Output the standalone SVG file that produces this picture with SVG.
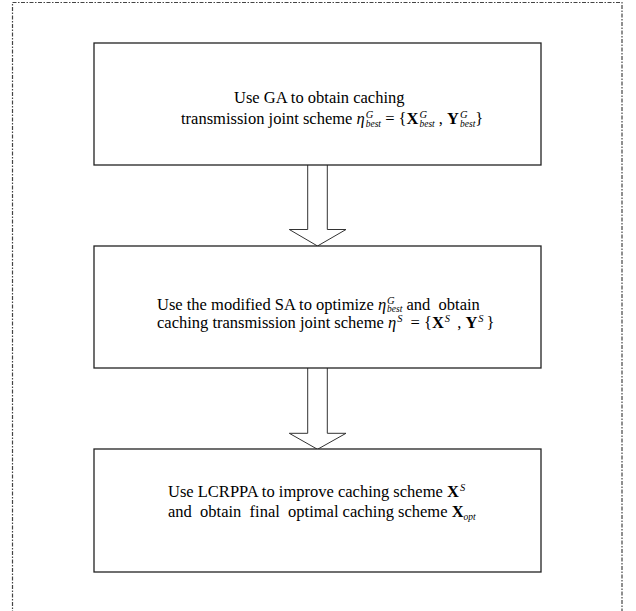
<svg xmlns="http://www.w3.org/2000/svg" width="636" height="611" viewBox="0 0 636 611">
<style>
.frame{fill:none;stroke:#444;stroke-width:1.2;stroke-dasharray:4 1.5 1.5 1.5}
.box{fill:#fff;stroke:#222;stroke-width:1.3}
.arrow{fill:#fff;stroke:#333;stroke-width:1}
text{font-family:"Liberation Serif","Times New Roman",serif;font-size:16.5px;fill:#000}
.i{font-style:italic}
.b{font-weight:bold}
.sup{font-size:10.5px;font-style:italic}
.sub{font-size:9.5px;font-style:italic}
</style>
<rect class="frame" x="12.5" y="2.5" width="609.5" height="640"/>
<g id="connectors">
<path class="arrow" d="M307.7,165 L307.7,229.5 L289.3,229.5 L317.5,246 L346,229.5 L327.3,229.5 L327.3,165"/>
<path class="arrow" d="M307.7,368 L307.7,433.3 L289.3,433.3 L317.5,449.3 L346,433.3 L327.3,433.3 L327.3,368"/>
</g>
<g id="node1">
<rect class="box" x="94" y="43" width="447" height="122"/>
<text x="234" y="103">Use GA to obtain caching</text>
<text x="181" y="124" xml:space="preserve">transmission joint scheme <tspan class="i">η</tspan><tspan class="sup" dx="1" dy="-6.5">G</tspan><tspan class="sub" dx="-7.6" dy="9">best</tspan><tspan dy="-2.5"> = {</tspan><tspan class="b">X</tspan><tspan class="sup" dx="1" dy="-6.5">G</tspan><tspan class="sub" dx="-7.6" dy="9">best</tspan><tspan dy="-2.5"> , </tspan><tspan class="b">Y</tspan><tspan class="sup" dx="1" dy="-6.5">G</tspan><tspan class="sub" dx="-7.6" dy="9">best</tspan><tspan dy="-2.5">}</tspan></text>
</g>
<g id="node2">
<rect class="box" x="94" y="246" width="447" height="122"/>
<text x="157" y="310" xml:space="preserve">Use the modified SA to optimize <tspan class="i">η</tspan><tspan class="sup" dx="1" dy="-6.5">G</tspan><tspan class="sub" dx="-7.6" dy="8.5">best</tspan><tspan dy="-2"> and  obtain</tspan></text>
<text x="157" y="328" xml:space="preserve">caching transmission joint scheme <tspan class="i">η</tspan><tspan class="sup" dx="1" dy="-6.5">S</tspan><tspan dx="4" dy="6.5"> = {</tspan><tspan class="b">X</tspan><tspan class="sup" dx="1" dy="-6.5">S</tspan><tspan dx="3" dy="6.5"> , </tspan><tspan class="b">Y</tspan><tspan class="sup" dx="1" dy="-6.5">S</tspan><tspan dx="3" dy="6.5">}</tspan></text>
</g>
<g id="node3">
<rect class="box" x="94" y="449" width="447" height="123"/>
<text x="168" y="497" xml:space="preserve">Use LCRPPA to improve caching scheme <tspan class="b">X</tspan><tspan class="sup" dx="1" dy="-6.5">S</tspan></text>
<text x="168" y="517" xml:space="preserve">and  obtain  final  optimal caching scheme <tspan class="b">X</tspan><tspan class="sub" dy="3">opt</tspan></text>
</g>
</svg>
